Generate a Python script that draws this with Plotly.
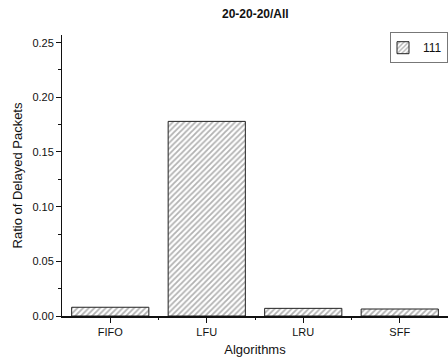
import plotly.graph_objects as go

categories = ["FIFO", "LFU", "LRU", "SFF"]
values = [0.008, 0.178, 0.007, 0.0064]
series_name = "111"
yticks = [0.0, 0.05, 0.10, 0.15, 0.20, 0.25]
yticktext = ["0.00", "0.05", "0.10", "0.15", "0.20", "0.25"]

font = "Liberation Sans, Arial, sans-serif"

fig = go.Figure()
fig.add_trace(go.Bar(
    x=categories, y=values, name=series_name, width=0.8,
    marker=dict(color="white", line=dict(color="#222", width=1),
                pattern=dict(shape="/", size=4, solidity=0.45, fgcolor="#666", bgcolor="white")),
    showlegend=True,
))
# invisible trace for minor x ticks between categories
fig.add_trace(go.Scatter(x=[0.5, 1.5, 2.5], y=[0, 0, 0], xaxis="x2", mode="markers",
                         marker=dict(opacity=0), showlegend=False, hoverinfo="skip"))

fig.update_layout(
    width=448, height=364,
    margin=dict(l=62, r=0, t=35, b=48),
    paper_bgcolor="white", plot_bgcolor="white",
    font=dict(family=font, color="#111", size=11),
    title=dict(text="<b>20-20-20/All</b>", x=0.57, xanchor="center", y=0.962, yanchor="middle",
               font=dict(size=12, family=font)),
    bargap=0.2,
    xaxis=dict(type="category", range=[-0.5, 3.5], showline=True, linecolor="#111", linewidth=2,
               ticks="outside", ticklen=5, tickcolor="#111", tickwidth=1,
               showgrid=False, zeroline=False,
               title=dict(text="Algorithms", font=dict(size=13), standoff=8)),
    xaxis2=dict(overlaying="x", range=[-0.5, 3.5], anchor="y", side="bottom",
                tickvals=[0.5, 1.5, 2.5], ticks="outside", ticklen=3, tickcolor="#111",
                showticklabels=False, showgrid=False, zeroline=False, showline=False),
    yaxis=dict(range=[0, 0.257], showline=True, linecolor="#111", linewidth=1,
               tickvals=yticks, ticktext=yticktext, ticks="outside", ticklen=5, tickcolor="#111",
               minor=dict(dtick=0.025, tick0=0, ticks="outside", ticklen=3, tickcolor="#111"),
               showgrid=False, zeroline=False,
               title=dict(text="Ratio of Delayed Packets", font=dict(size=13), standoff=6)),
    legend=dict(x=1.0, xanchor="right", y=1.01, yanchor="top", bordercolor="#777", borderwidth=1,
                bgcolor="white", font=dict(size=12), itemwidth=30,
                tracegroupgap=0, indentation=-8),
)

fig.write_html("out.html")
